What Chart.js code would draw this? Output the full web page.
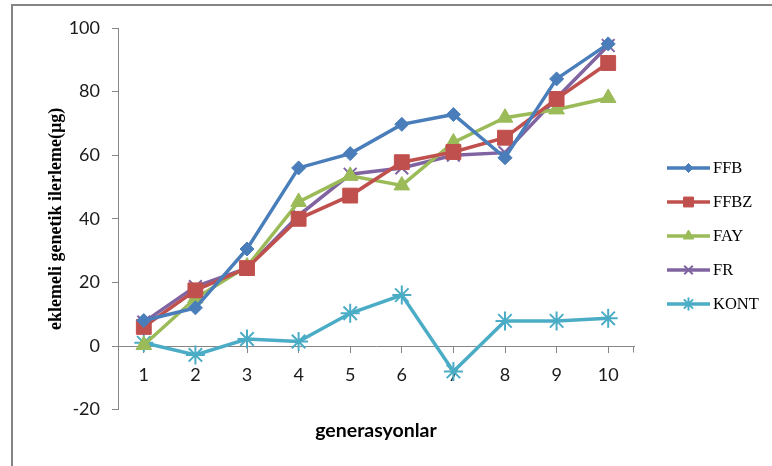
<!DOCTYPE html>
<html>
<head>
<meta charset="utf-8">
<script src="https://cdn.jsdelivr.net/npm/chart.js@4/dist/chart.umd.min.js"></script>
<style>
  html, body { margin: 0; padding: 0; background: #ffffff; }
  #wrap { width: 772px; height: 466px; position: relative; }
</style>
</head>
<body>
<div id="wrap"><canvas id="chart" width="772" height="466"></canvas></div>
<script>
// Generations on the x axis
const generations = ['1', '2', '3', '4', '5', '6', '7', '8', '9', '10'];

// Additive genetic gain (µg) per selection line
const ffb  = [8, 12, 30.5, 56, 60.5, 69.7, 72.8, 59.2, 84, 95];
const ffbz = [6, 17.5, 24.5, 40, 47.3, 57.8, 61, 65.5, 77.7, 89];
const fay  = [0.3, 15, 25, 45.3, 53.5, 50.5, 64, 71.8, 74.4, 78];
const fr   = [7.5, 18.7, 24.5, 41, 54, 56, 60, 60.8, 78, 94.5];
const kont = [1, -2.8, 2.2, 1.4, 10.3, 16, -8, 7.9, 7.9, 8.7];

// Value axis range
const yMin = -20;
const yMax = 100;
const yStep = 20;

const seriesNames = ['FFB', 'FFBZ', 'FAY', 'FR', 'KONT'];

const AXIS_GRAY = '#868686';
const TICK_FONT = { family: 'Lato, "Open Sans", sans-serif', size: 18 };

// Gray outer frame around the chart
const framePlugin = {
  id: 'frame',
  beforeDraw(chart) {
    const ctx = chart.ctx;
    ctx.save();
    ctx.fillStyle = '#ffffff';
    ctx.fillRect(0, 0, chart.width, chart.height);
    ctx.strokeStyle = '#858585';
    ctx.lineWidth = 2;
    ctx.beginPath();
    ctx.moveTo(12, chart.height + 5);
    ctx.lineTo(12, 5);
    ctx.lineTo(chart.width + 5, 5);
    ctx.stroke();
    ctx.restore();
  },
  // closing tick mark at the right end of the category axis
  afterDraw(chart) {
    const ctx = chart.ctx;
    const y0 = Math.round(chart.scales.y.getPixelForValue(0)) + 0.5;
    const xr = Math.round(chart.chartArea.right) - 0.5;
    ctx.save();
    ctx.strokeStyle = AXIS_GRAY;
    ctx.lineWidth = 1;
    ctx.beginPath();
    ctx.moveTo(xr, y0);
    ctx.lineTo(xr, y0 + 6);
    ctx.stroke();
    ctx.restore();
  }
};

// Legend on the right: line sample with marker, then the series name
const lineLegendPlugin = {
  id: 'lineLegend',
  afterDraw(chart) {
    const ctx = chart.ctx;
    const x0 = 667, x1 = 710, top = 168, step = 34;
    ctx.save();
    chart.data.datasets.forEach((ds, i) => {
      const y = top + i * step;
      ctx.strokeStyle = ds.borderColor;
      ctx.lineWidth = 3.5;
      ctx.lineCap = 'butt';
      ctx.beginPath();
      ctx.moveTo(x0, y);
      ctx.lineTo(x1, y);
      ctx.stroke();
      ctx.fillStyle = ds.pointBackgroundColor;
      ctx.strokeStyle = ds.pointBorderColor;
      ctx.lineWidth = ds.pointBorderWidth;
      Chart.helpers.drawPoint(ctx, {
        pointStyle: ds.pointStyle,
        radius: ds.legendRadius,
        rotation: 0,
        borderWidth: ds.pointBorderWidth
      }, (x0 + x1) / 2, y);
      ctx.fillStyle = '#000000';
      ctx.font = '16.5px "Liberation Serif", "Times New Roman", serif';
      ctx.textAlign = 'left';
      ctx.textBaseline = 'middle';
      ctx.fillText(ds.label, x1 + 3, y + 1);
    });
    ctx.restore();
  }
};

function series(label, data, color, style, radius, legendRadius, filled, borderWidth) {
  return {
    label,
    data,
    borderColor: color,
    backgroundColor: color,
    borderWidth: 3.5,
    tension: 0,
    pointStyle: style,
    pointRadius: radius,
    pointHoverRadius: radius,
    pointBackgroundColor: filled ? color : 'rgba(0,0,0,0)',
    pointBorderColor: color,
    pointBorderWidth: borderWidth,
    legendRadius
  };
}

new Chart(document.getElementById('chart'), {
  type: 'line',
  data: {
    labels: generations,
    datasets: [
      series(seriesNames[0], ffb,  '#4A7EBB', 'rectRot',  7,   4.5, true, 1),
      series(seriesNames[1], ffbz, '#C0504D', 'rect',     10.5, 7,  true, 1),
      series(seriesNames[2], fay,  '#9BBB59', 'triangle', 9,   6,   true, 1),
      series(seriesNames[3], fr,   '#8064A2', 'crossRot', 9,   6,   false, 2),
      series(seriesNames[4], kont, '#4BACC6', 'star',     9.5, 6.5, false, 2)
    ]
  },
  options: {
    responsive: false,
    animation: false,
    events: [],
    layout: { padding: { left: 20, top: 28, right: 138, bottom: 0 } },
    plugins: {
      legend: { display: false },
      tooltip: { enabled: false },
      title: {
        display: true,
        text: 'generasyonlar',
        position: 'bottom',
        fullSize: false,
        color: '#000000',
        font: { family: 'Lato, "Open Sans", sans-serif', size: 19.5, weight: 'bold' },
        padding: { top: 9, bottom: 24 }
      }
    },
    scales: {
      x: {
        type: 'category',
        position: { y: 0 },
        offset: true,
        grid: {
          display: true,
          drawOnChartArea: false,
          drawTicks: true,
          tickLength: 6,
          color: AXIS_GRAY,
          offset: false
        },
        border: { display: true, color: AXIS_GRAY, width: 1 },
        ticks: { color: '#1a1a1a', font: TICK_FONT, padding: 12, maxRotation: 0, autoSkip: false }
      },
      y: {
        min: yMin,
        max: yMax,
        afterFit(scale) { scale.width = 98; },
        grid: {
          display: true,
          drawOnChartArea: false,
          drawTicks: true,
          tickLength: 6,
          color: AXIS_GRAY
        },
        border: { display: true, color: AXIS_GRAY, width: 1 },
        ticks: { stepSize: yStep, color: '#1a1a1a', font: TICK_FONT, padding: 12 },
        title: {
          display: true,
          text: 'eklemeli genetik ilerleme(µg)',
          color: '#000000',
          font: { family: '"Liberation Serif", "Times New Roman", serif', size: 18, weight: 'bold' },
          padding: { top: 26, bottom: 0 }
        }
      }
    }
  },
  plugins: [framePlugin, lineLegendPlugin]
});
</script>
</body>
</html>
